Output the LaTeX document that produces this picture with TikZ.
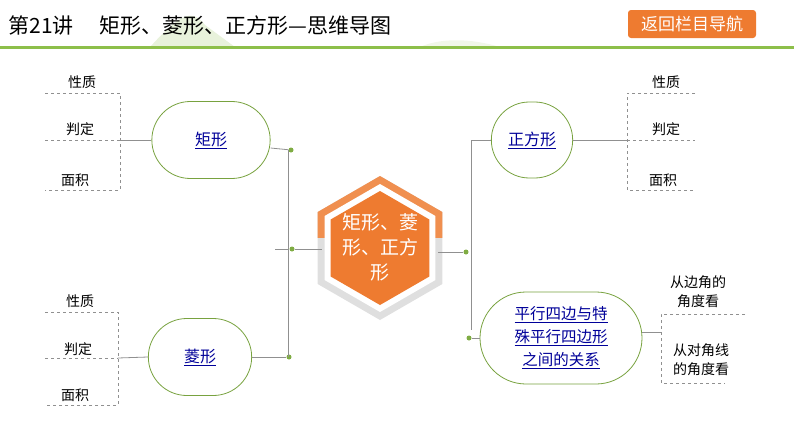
\documentclass[tikz,border=0pt]{standalone}
\usepackage{fontspec}
\setmainfont{Noto Sans CJK SC}
\usetikzlibrary{shapes.misc,calc}
\definecolor{gr}{HTML}{8DBF4A}
\definecolor{og}{HTML}{EE7B30}
\definecolor{ln}{HTML}{909090}
\tikzset{
  topic/.style={draw=gr!85!black,line width=0.8pt,rounded rectangle,fill=white,align=center,font=\fontsize{16}{20}\selectfont\color{blue!60!black}},
  dot/.style={circle,fill=gr!90!black,inner sep=0pt,minimum size=5pt},
  cl/.style={draw=ln,line width=0.8pt},
  dl/.style={draw=ln,dashed,line width=0.7pt},
  leaf/.style={font=\fontsize{14}{19}\selectfont,align=left}
}
\newcommand{\ul}[1]{\underline{#1}}
\begin{document}
\begin{tikzpicture}[x=1pt,y=-1pt]
\useasboundingbox (0,0) rectangle (794,447);
% header
\fill[gr!20] (150,47) .. controls (175,20) and (190,5) .. (205,25) -- (235,47) -- cycle;
\fill[gr!12] (420,47) .. controls (440,38) and (470,38) .. (500,47) -- cycle;
\draw[gr,line width=3pt] (0,47) -- (794,47);
\node[anchor=west,font=\fontsize{21}{24}\selectfont] (title) at (5,26) {第21讲\quad\ 矩形、菱形、正方形—思维导图};
\node[fill=og,rounded corners=3pt,minimum width=128pt,minimum height=28pt,text=white,font=\fontsize{17}{20}\selectfont] (btn) at (692,24) {返回栏目导航};
% hexagon
\coordinate (hc) at (380,248);
\fill[gray!25] ($(hc)+(90:72)$) -- ($(hc)+(30:72)$) -- ($(hc)+(-30:72)$) -- ($(hc)+(-90:72)$) -- ($(hc)+(-150:72)$) -- ($(hc)+(150:72)$) -- cycle;
\begin{scope}
\clip (300,170) rectangle (460,237);
\fill[og!85] ($(hc)+(90:72)$) -- ($(hc)+(30:72)$) -- ($(hc)+(-30:72)$) -- ($(hc)+(-90:72)$) -- ($(hc)+(-150:72)$) -- ($(hc)+(150:72)$) -- cycle;
\end{scope}
\fill[white] ($(hc)+(90:64)$) -- ($(hc)+(30:64)$) -- ($(hc)+(-30:64)$) -- ($(hc)+(-90:64)$) -- ($(hc)+(-150:64)$) -- ($(hc)+(150:64)$) -- cycle;
\fill[og] ($(hc)+(90:57)$) -- ($(hc)+(30:57)$) -- ($(hc)+(-30:57)$) -- ($(hc)+(-90:57)$) -- ($(hc)+(-150:57)$) -- ($(hc)+(150:57)$) -- cycle;
\node[text=white,align=center,font=\fontsize{19}{25}\selectfont] (hex) at (380,247) {矩形、菱\\形、正方\\形};
% topic nodes
\node[topic,minimum width=125pt,minimum height=77pt] (jx) at (211,140) {\ul{矩形}};
\node[topic,minimum width=110pt,minimum height=77pt] (lx) at (200,357) {\ul{菱形}};
\node[topic,minimum width=88pt,minimum height=76pt] (zf) at (532,140) {\ul{正方形}};
\node[topic,minimum width=150pt,minimum height=92pt,inner xsep=-6pt,font=\fontsize{15.5}{23}\selectfont\color{blue!60!black}] (px) at (561,338) {\ul{平行四边与特}\\\ul{殊平行四边形}\\\ul{之间的关系}};
% left connectors
\coordinate (lv1) at (288,150); \coordinate (lv2) at (288,357);
\node[dot] (d1) at (291,150) {};
\node[dot] (d2) at (289,357) {};
\node[dot] (d3) at (292,249) {};
\coordinate (lh) at (275,249);
\draw[cl] (jx.east |- 0,148) -- (d1);
\draw[cl] (lx.east) -- (d2);
\draw[cl] (lv1) -- (lv2);
\draw[cl] (lh) -- (d3) -- (322,249);
% right connectors
\node[dot] (d4) at (466,252) {};
\node[dot] (d5) at (469,338) {};
\coordinate (rv1) at (471,140); \coordinate (rv2) at (471,330);
\draw[cl] (438,252) -- (d4) -- (458,252);
\draw[cl] (rv1) -- (rv2);
\draw[cl] (rv1) -- (zf.west);
\draw[cl] (d5) -- (px.west);
% left leaves for 矩形
\draw[dl] (45,93) -- (120,93) -- (120,190) -- (45,190);
\draw[dl] (45,140) -- (120,140);
\draw[cl] (120,140) -- (jx.west);
\node[leaf] (a1) at (82,82) {性质};
\node[leaf] (a2) at (80,129) {判定};
\node[leaf] (a3) at (75,180) {面积};
% left leaves for 菱形
\draw[dl] (45,312) -- (118,312) -- (118,405) -- (45,405);
\draw[dl] (45,358) -- (118,358);
\draw[cl] (118,358) -- (lx.west);
\node[leaf] (b1) at (80,301) {性质};
\node[leaf] (b2) at (78,349) {判定};
\node[leaf] (b3) at (75,395) {面积};
% right leaves for 正方形
\draw[dl] (695,93) -- (627,93) -- (627,190) -- (695,190);
\draw[dl] (627,140) -- (695,140);
\draw[cl] (zf.east) -- (627,140);
\node[leaf] (c1) at (666,82) {性质};
\node[leaf] (c2) at (666,129) {判定};
\node[leaf] (c3) at (663,180) {面积};
% right leaves for 平行
\draw[dl] (745,314) -- (661,314) -- (661,383) -- (725,383);
\draw[cl] (px.east |- 0,332) -- (661,332);
\node[leaf,align=center] (e1) at (698,292) {从边角的\\角度看};
\node[leaf,align=center] (e2) at (701,360) {从对角线\\的角度看};
\end{tikzpicture}
\end{document}
